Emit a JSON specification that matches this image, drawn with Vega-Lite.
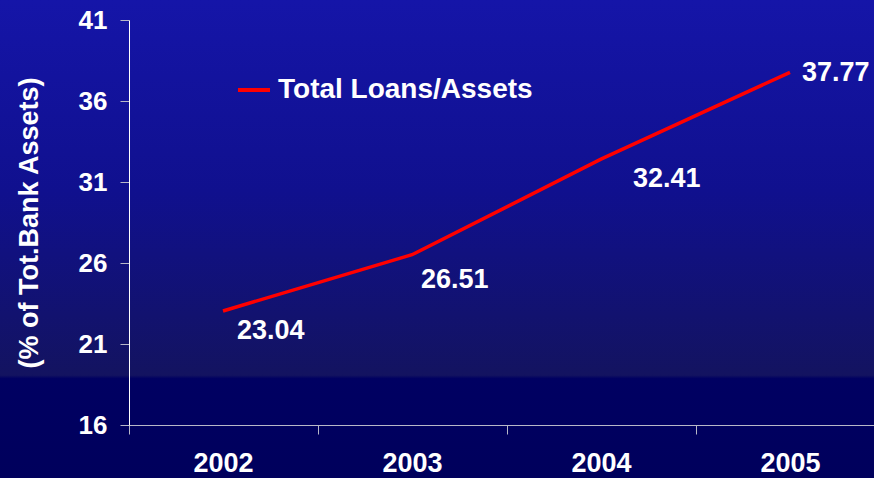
{
  "$schema": "https://vega.github.io/schema/vega-lite/v6.json",
  "width": 874,
  "height": 478,
  "padding": 0,
  "autosize": "none",
  "background": "#000060",
  "config": {
    "font": "Liberation Sans",
    "view": {
      "stroke": null,
      "fill": {
        "gradient": "linear",
        "x1": 0, "y1": 0, "x2": 0, "y2": 1,
        "stops": [
          {"offset": 0, "color": "#1515A8"},
          {"offset": 0.4, "color": "#10108E"},
          {"offset": 0.785, "color": "#131360"},
          {"offset": 0.792, "color": "#000062"},
          {"offset": 1, "color": "#00005C"}
        ]
      }
    }
  },
  "data": {
    "values": [
      {"year": "2002", "value": 23.04, "series": "Total Loans/Assets"},
      {"year": "2003", "value": 26.51, "series": "Total Loans/Assets"},
      {"year": "2004", "value": 32.41, "series": "Total Loans/Assets"},
      {"year": "2005", "value": 37.77, "series": "Total Loans/Assets"}
    ]
  },
  "encoding": {
    "x": {
      "field": "year",
      "type": "ordinal",
      "scale": {"type": "band", "range": [128.5, 884.5], "paddingInner": 0, "paddingOuter": 0},
      "axis": {
        "title": null,
        "labelAngle": 0,
        "labelFontSize": 27,
        "labelFontWeight": "bold",
        "labelColor": "white",
        "domainColor": "#B8B8C8",
        "tickColor": "#B8B8C8",
        "tickSize": 9,
        "tickBand": "extent",
        "labelPadding": 16,
        "offset": -53,
        "grid": false
      }
    },
    "y": {
      "field": "value",
      "type": "quantitative",
      "scale": {"domain": [16, 41], "range": [425, 20], "nice": false, "zero": false},
      "axis": {
        "title": "(% of Tot.Bank Assets)",
        "titleFontSize": 27,
        "titleFontWeight": "bold",
        "titleColor": "white",
        "titlePadding": 35,
        "values": [16, 21, 26, 31, 36, 41],
        "labelFontSize": 26,
        "labelFontWeight": "bold",
        "labelColor": "white",
        "domainColor": "white",
        "tickColor": "#B8B8C8",
        "tickSize": 9,
        "labelPadding": 13,
        "offset": -129,
        "grid": false
      }
    }
  },
  "layer": [
    {
      "mark": {"type": "line", "strokeWidth": 3.5},
      "encoding": {
        "color": {
          "field": "series",
          "type": "nominal",
          "scale": {"range": ["#FF0000"]},
          "legend": {
            "orient": "none",
            "legendX": 236,
            "legendY": 72,
            "title": null,
            "padding": 0,
            "symbolType": "stroke",
            "symbolSize": 1024,
            "symbolStrokeWidth": 4,
            "labelFontSize": 28,
            "labelFontWeight": "bold",
            "labelColor": "white",
            "labelOffset": 6,
            "labelLimit": 500
          }
        }
      }
    },
    {
      "transform": [{"filter": "datum.year == '2002'"}],
      "mark": {"type": "text", "align": "left", "baseline": "middle", "dx": 14, "dy": 20, "fontSize": 27, "fontWeight": "bold", "color": "white"},
      "encoding": {"text": {"field": "value", "type": "quantitative", "format": ".2f"}}
    },
    {
      "transform": [{"filter": "datum.year == '2003'"}],
      "mark": {"type": "text", "align": "left", "baseline": "middle", "dx": 9, "dy": 25, "fontSize": 27, "fontWeight": "bold", "color": "white"},
      "encoding": {"text": {"field": "value", "type": "quantitative", "format": ".2f"}}
    },
    {
      "transform": [{"filter": "datum.year == '2004'"}],
      "mark": {"type": "text", "align": "left", "baseline": "middle", "dx": 32, "dy": 20, "fontSize": 27, "fontWeight": "bold", "color": "white"},
      "encoding": {"text": {"field": "value", "type": "quantitative", "format": ".2f"}}
    },
    {
      "transform": [{"filter": "datum.year == '2005'"}],
      "mark": {"type": "text", "align": "left", "baseline": "middle", "dx": 12, "dy": 1, "fontSize": 27, "fontWeight": "bold", "color": "white"},
      "encoding": {"text": {"field": "value", "type": "quantitative", "format": ".2f"}}
    }
  ]
}
